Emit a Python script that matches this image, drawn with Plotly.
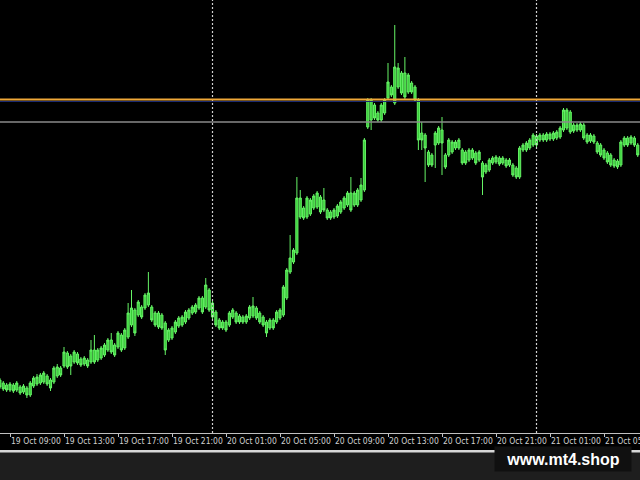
import pandas as pd
import plotly.graph_objects as go

# ---- data (M15 candles, price in points) ----
times = pd.date_range("2021-10-19 08:15", periods=190, freq="15min")

opens = [70,67,65,60,65,60,63,58,62,55,64,66,67,68,74,70,68,74,82,84,
         97,94,88,96,91,86,90,88,100,90,92,95,100,110,105,103,115,102,113,125,
         140,135,143,142,145,143,137,137,135,127,110,112,118,124,125,128,132,137,138,142,
         152,143,160,147,138,130,128,128,125,133,137,134,133,128,132,134,142,137,133,128,
         122,130,128,132,135,152,178,188,197,233,242,233,236,242,243,253,250,240,238,233,
         234,238,242,245,257,245,245,250,260,323,330,345,337,330,337,352,363,347,363,377,
         377,358,367,363,350,317,315,298,295,305,307,320,295,295,298,302,302,300,298,290,
         292,297,290,287,278,280,287,288,292,287,290,285,285,282,273,300,300,302,305,314,
         310,315,310,311,311,312,313,320,322,338,325,320,320,325,315,309,314,307,305,300,
         297,295,290,289,285,305,312,307,312,305]
closes = [63,61,60,66,59,67,57,64,55,67,72,73,75,77,66,62,82,83,75,98,
          83,84,98,87,85,92,84,100,88,100,102,105,110,98,95,117,100,120,137,142,
          117,148,133,155,157,130,125,123,122,100,120,122,128,132,133,138,140,143,145,152,
          138,165,140,133,125,122,122,120,137,140,128,128,128,134,143,144,132,128,125,117,
          130,122,138,140,163,180,192,200,252,252,232,252,250,254,257,238,240,232,232,240,
          244,248,252,257,240,257,260,265,310,350,350,332,330,345,350,368,355,383,382,357,
          353,375,358,350,310,310,302,285,285,317,322,307,283,310,308,308,310,287,287,300,
          300,287,298,273,285,290,292,293,286,292,284,290,275,273,302,305,307,310,315,305,
          315,310,316,316,317,318,322,340,340,318,319,325,326,312,308,315,308,298,295,292,
          288,285,284,283,308,312,305,313,305,295]
highs = [72,69,67,68,67,69,65,66,64,69,74,76,77,79,76,72,84,86,84,103,
         99,96,100,98,93,94,92,110,115,102,104,107,112,117,107,119,117,122,147,160,
         142,150,145,157,178,145,139,139,137,129,122,124,130,134,135,140,142,145,147,154,
         154,172,162,149,140,132,130,130,139,142,139,136,135,136,145,153,144,139,135,130,
         132,132,140,142,165,182,215,202,273,260,244,254,252,256,259,255,262,242,240,242,
         246,250,254,259,273,259,262,272,312,352,352,347,339,347,352,387,365,425,387,379,
         393,377,369,365,352,328,317,300,297,319,324,333,297,312,310,310,312,302,300,302,
         302,299,300,289,287,292,294,295,294,294,292,292,287,284,304,307,309,312,317,316,
         317,317,318,318,319,320,324,342,342,340,327,327,328,327,317,317,316,309,307,302,
         299,297,292,291,310,314,314,315,314,307]
lows = [61,59,58,58,57,58,55,56,52,53,62,64,65,66,64,59,66,72,73,82,
        81,75,86,85,83,84,82,86,86,88,90,93,98,96,93,101,98,100,111,123,
        114,133,131,140,143,128,123,121,120,95,108,110,116,122,123,126,130,135,136,140,
        136,141,138,131,123,120,120,118,123,131,126,126,126,126,130,132,130,126,123,113,
        120,120,126,130,133,150,176,186,195,231,230,231,234,240,241,236,238,230,230,231,
        232,236,240,243,238,243,243,248,258,321,320,330,328,328,335,350,353,345,361,355,
        351,356,356,348,300,300,268,283,283,282,305,275,281,293,296,300,300,285,285,288,
        290,285,288,255,276,278,285,286,284,285,282,283,273,271,271,298,298,300,303,303,
        308,308,308,309,309,310,311,318,320,316,317,318,318,310,306,307,306,296,293,290,
        286,283,282,281,283,303,303,305,303,293]

levels_orange = 350.5
levels_navy = 348.5
level_gray = 328.0

day_separators = ["2021-10-20 00:00", "2021-10-21 00:00"]
tick_times = pd.date_range("2021-10-19 09:00", "2021-10-21 05:00", freq="4h")
tick_labels = ["19 Oct 09:00", "19 Oct 13:00", "19 Oct 17:00", "19 Oct 21:00",
               "20 Oct 01:00", "20 Oct 05:00", "20 Oct 09:00", "20 Oct 13:00",
               "20 Oct 17:00", "20 Oct 21:00", "21 Oct 01:00", "21 Oct 05:00"]

x_range = ["2021-10-19 08:15:33", "2021-10-21 07:40:00"]
y_range = [17, 450]

GREEN_LINE = "#66f466"
GREEN_FILL = "#38cc38"

fig = go.Figure()
fig.add_trace(go.Candlestick(
    x=times, open=opens, high=highs, low=lows, close=closes,
    increasing=dict(line=dict(color=GREEN_LINE, width=1), fillcolor=GREEN_FILL),
    decreasing=dict(line=dict(color=GREEN_LINE, width=1), fillcolor=GREEN_FILL),
    whiskerwidth=0, showlegend=False, hoverinfo="skip",
))

shapes = []
for ds in day_separators:
    shapes.append(dict(type="line", xref="x", yref="paper", x0=ds, x1=ds, y0=0, y1=1,
                       line=dict(color="#d0d0d0", width=1.2, dash="2px,2px"), layer="above"))
shapes.append(dict(type="line", xref="paper", yref="y", x0=0, x1=1, y0=level_gray, y1=level_gray,
                   line=dict(color="#8a8a8a", width=1.5), layer="above"))
shapes.append(dict(type="line", xref="paper", yref="y", x0=0, x1=1, y0=levels_navy, y1=levels_navy,
                   line=dict(color="#1a2a70", width=1.2), layer="above"))
shapes.append(dict(type="line", xref="paper", yref="y", x0=0, x1=1, y0=levels_orange, y1=levels_orange,
                   line=dict(color="#f0a838", width=2.2), layer="above"))
# window border + status area below the time axis
shapes.append(dict(type="rect", xref="paper", yref="paper", ysizemode="pixel", yanchor=0,
                   x0=0, x1=1, y0=-19, y1=-60, fillcolor="#1e1e1e", line=dict(width=0)))
shapes.append(dict(type="rect", xref="paper", yref="paper", ysizemode="pixel", yanchor=0,
                   x0=0, x1=1, y0=-17, y1=-19.5, fillcolor="#d8d8d8", line=dict(width=0)))

annotations = []
for t, lab in zip(tick_times, tick_labels):
    annotations.append(dict(x=t, y=0, xref="x", yref="paper", text=lab, showarrow=False,
                            xanchor="left", yanchor="top", yshift=-1, xshift=-1,
                            font=dict(family="Liberation Sans Narrow, DejaVu Sans Condensed, Liberation Sans, Arial",
                                      size=8.5, color="#d0d0d0")))
annotations.append(dict(x=0.8797, y=0, xref="paper", yref="paper", text="<b>www.mt4.shop</b>",
                        showarrow=False, xanchor="center", yanchor="middle", yshift=-26,
                        width=134, height=22, bgcolor="#101010",
                        font=dict(family="Liberation Sans, Arial", size=16, color="#ffffff")))

fig.update_layout(
    width=640, height=480,
    margin=dict(l=0, r=0, t=0, b=47),
    paper_bgcolor="#000000", plot_bgcolor="#000000",
    boxgap=0.1,
    shapes=shapes, annotations=annotations,
    xaxis=dict(range=x_range, type="date", rangeslider=dict(visible=False),
               showgrid=False, zeroline=False, showline=True, linecolor="#c0c0c0", linewidth=1,
               ticks="outside", ticklen=3, tickcolor="#c0c0c0", tickvals=list(tick_times),
               showticklabels=False, fixedrange=True),
    yaxis=dict(range=y_range, showgrid=False, zeroline=False, showticklabels=False,
               showline=False, fixedrange=True),
    hovermode=False,
)

fig.write_html("out.html", config={"displayModeBar": False, "staticPlot": True},
               post_script="document.body.style.margin='0';document.body.style.overflow='hidden';")
